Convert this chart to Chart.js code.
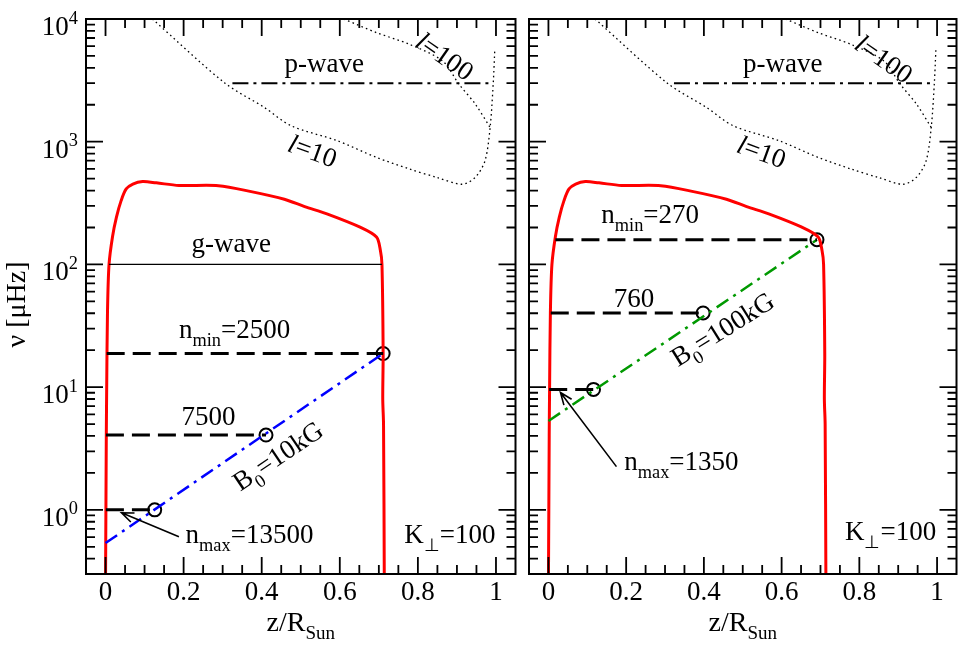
<!DOCTYPE html>
<html>
<head>
<meta charset="utf-8">
<script src="https://cdn.jsdelivr.net/npm/chart.js@4.4.1/dist/chart.umd.min.js"></script>
<style>
  body { margin: 0; background: #fff; }
  #wrap { position: relative; width: 965px; height: 646px; }
  canvas { position: absolute; top: 0; }
</style>
</head>
<body>
<div id="wrap">
  <canvas id="leftChart" width="524" height="646" style="left:0"></canvas>
  <canvas id="rightChart" width="445" height="646" style="left:520px"></canvas>
</div>
<script>
const FONT = '"Liberation Serif", "Times New Roman", serif';

// tick labels
const xTicks = [0, 0.2, 0.4, 0.6, 0.8, 1];
const yDecades = [0, 1, 2, 3, 4];

// red curve (same in both panels)
const coreZ  = [0.000, 0.001, 0.002, 0.003, 0.005, 0.009, 0.018, 0.028, 0.040, 0.053, 0.070, 0.095, 0.13, 0.188, 0.289, 0.373, 0.458, 0.51, 0.567, 0.652, 0.694, 0.704, 0.708, 0.711, 0.710, 0.712, 0.714];
const coreNu = [0.25, 1, 4, 10, 40, 100, 169, 243, 331, 412, 452, 473, 462, 440, 438, 392, 340, 296, 258, 201, 167, 130, 100, 18.8, 8, 5, 0.25];

// dotted l=10 and l=100 curves
const l10Z  = [0.12, 0.306, 0.407, 0.475, 0.593, 0.694, 0.778, 0.85, 0.913, 0.947, 0.972, 0.985, 0.993, 0.997];
const l10Nu = [10000, 3000, 1900, 1350, 1020, 745, 600, 510, 450, 513, 701, 1307, 3000, 5675];
const l100Z  = [0.61, 0.694, 0.778, 0.863, 0.905, 0.947, 0.985];
const l100Nu = [10000, 7742, 6225, 4557, 2950, 2026, 1307];

// p-wave and g-wave
const pWaveNu = 3000;
const pWaveZLeft = [0.325, 0.989];
const pWaveZRight = [0.323, 0.992];
const gWaveNu = 100;
const gWaveZ = [0.009, 0.708];

// left panel, B0 = 10 kG
const nuLevelsLeft = [18.8, 4.07, 1.0];
const zStartLeft = [0.003, 0.001, 0.001];
const zCircleLeft = [0.711, 0.411, 0.126];
const blueZ = [0, 0.711];
const blueNu = [0.536, 18.8];

// right panel, B0 = 100 kG
const nuLevelsRight = [159, 40.2, 9.58];
const zStartRight = [0.018, 0.006, 0.002];
const zCircleRight = [0.691, 0.398, 0.116];
const greenZ = [0, 0.691];
const greenNu = [5.3, 159];

function pts(zs, nus) { return zs.map((z, i) => ({ x: z, y: nus[i] })); }

function lineSet(data, color, width, dash, tension) {
  return { data, borderColor: color, borderWidth: width, borderDash: dash || [],
           pointRadius: 0, tension: tension || 0, fill: false };
}

function circleSet(zs, nus) {
  return { data: pts(zs, nus), showLine: false, pointRadius: 6.5, pointHoverRadius: 6.5,
           pointBorderWidth: 2, pointBorderColor: '#000', pointBackgroundColor: 'rgba(0,0,0,0)' };
}

function drawRich(ctx, x, y, parts, size, align, angle, mid) {
  ctx.save();
  ctx.translate(x, y);
  if (angle) ctx.rotate(angle * Math.PI / 180);
  let w = 0;
  const items = parts.map(([t, k]) => {
    const s = (k === 'sub' || k === 'sup') ? size * 0.68 : size;
    const f = (k === 'it' ? 'italic ' : '') + s + 'px ' + FONT;
    ctx.font = f;
    const it = { t, f, x: w, dy: k === 'sub' ? size * 0.3 : k === 'sup' ? -size * 0.42 : 0 };
    w += ctx.measureText(t).width;
    return it;
  });
  const x0 = align === 'center' ? -w / 2 : align === 'right' ? -w : 0;
  const base = mid ? size * 0.3 : 0;
  ctx.fillStyle = '#000';
  ctx.textBaseline = 'alphabetic';
  ctx.textAlign = 'left';
  items.forEach(it => { ctx.font = it.f; ctx.fillText(it.t, x0 + it.x, it.dy + base); });
  ctx.restore();
}

function drawArrow(ctx, x0, y0, x1, y1) {
  const a = Math.atan2(y1 - y0, x1 - x0), L = 13, h = 0.38;
  ctx.beginPath();
  ctx.moveTo(x0, y0); ctx.lineTo(x1, y1);
  ctx.moveTo(x1 - L * Math.cos(a - h), y1 - L * Math.sin(a - h));
  ctx.lineTo(x1, y1);
  ctx.lineTo(x1 - L * Math.cos(a + h), y1 - L * Math.sin(a + h));
  ctx.stroke();
}

const decor = {
  id: 'decor',
  afterDatasetsDraw(chart, args, opts) {
    const { ctx, chartArea: a, scales: { x, y } } = chart;
    ctx.save();
    ctx.strokeStyle = '#000';
    ctx.lineWidth = 2;
    ctx.strokeRect(a.left, a.top, a.right - a.left, a.bottom - a.top);
    ctx.lineWidth = 1.8;
    ctx.beginPath();
    for (let k = 0; k <= 20; k++) {
      const px = x.getPixelForValue(k * 0.05);
      const len = k % 4 === 0 ? 17 : 9;
      ctx.moveTo(px, a.bottom); ctx.lineTo(px, a.bottom - len);
      ctx.moveTo(px, a.top); ctx.lineTo(px, a.top + len);
    }
    for (let e = -1; e <= 3; e++) {
      for (let m = 1; m <= 9; m++) {
        const v = m * Math.pow(10, e);
        if (v < y.min) continue;
        const py = y.getPixelForValue(v);
        const len = m === 1 ? 17 : 9;
        ctx.moveTo(a.left, py); ctx.lineTo(a.left + len, py);
        ctx.moveTo(a.right, py); ctx.lineTo(a.right - len, py);
      }
    }
    ctx.stroke();

    if (opts.yLabels) {
      yDecades.forEach(d => {
        const py = y.getPixelForValue(Math.pow(10, d));
        drawRich(ctx, a.left - 8, py + 16, [['10', ''], [String(d), 'sup']], 27, 'right', 0);
      });
      drawRich(ctx, 17, (a.top + a.bottom) / 2 + 8, [['ν [μHz]', '']], 28, 'center', -90, true);
    }
    drawRich(ctx, (a.left + a.right) / 2, 631, [['z/R', ''], ['Sun', 'sub']], 28, 'center', 0);

    (opts.notes || []).forEach(n => {
      drawRich(ctx, x.getPixelForValue(n.z), y.getPixelForValue(n.nu), n.parts, 27,
               n.align, n.angle || 0, n.mid);
    });
    if (opts.arrow) {
      const r = opts.arrow;
      ctx.lineWidth = 1.6;
      drawArrow(ctx, x.getPixelForValue(r[0]), y.getPixelForValue(r[1]),
                     x.getPixelForValue(r[2]), y.getPixelForValue(r[3]));
    }
    ctx.restore();
  }
};

function makePanel(id, yWidth, padRight, datasets, decorOpts) {
  return new Chart(document.getElementById(id), {
    type: 'line',
    data: { datasets },
    options: {
      responsive: false,
      animation: false,
      events: [],
      layout: { padding: { top: 19, right: padRight, left: 0, bottom: 0 } },
      plugins: { legend: { display: false }, tooltip: { enabled: false }, decor: decorOpts },
      scales: {
        x: {
          type: 'linear', min: -0.05, max: 1.05,
          grid: { display: false, drawTicks: false }, border: { display: false },
          afterBuildTicks: s => { s.ticks = xTicks.map(v => ({ value: v })); },
          afterFit: s => { s.height = 72; },
          ticks: {
            autoSkip: false, maxRotation: 0, padding: 3, color: '#000',
            font: { family: FONT, size: 27 },
            callback: v => String(Number(v.toFixed(1)))
          }
        },
        y: {
          type: 'logarithmic', min: 0.3, max: 10000,
          grid: { display: false, drawTicks: false }, border: { display: false },
          ticks: { display: false },
          afterFit: s => { s.width = yWidth; }
        }
      }
    },
    plugins: [decor]
  });
}

const dashed = [18, 8];
const dotted = [1.6, 3.2];

const leftSets = [
  lineSet(pts(l10Z, l10Nu), '#000', 1.3, dotted, 0.3),
  lineSet(pts(l100Z, l100Nu), '#000', 1.3, dotted, 0.3),
  lineSet(pts(pWaveZLeft, [pWaveNu, pWaveNu]), '#000', 2, [16, 5, 3, 5]),
  lineSet(pts(gWaveZ, [gWaveNu, gWaveNu]), '#000', 1.2),
  ...nuLevelsLeft.map((nu, i) => lineSet(pts([zStartLeft[i], zCircleLeft[i]], [nu, nu]), '#000', 3, dashed)),
  lineSet(pts(blueZ, blueNu), '#0000ff', 2.5, [14, 6, 3, 6]),
  lineSet(pts(coreZ, coreNu), '#ff0000', 3, [], 0.3),
  circleSet(zCircleLeft, nuLevelsLeft)
];

const rightSets = [
  lineSet(pts(l10Z, l10Nu), '#000', 1.3, dotted, 0.3),
  lineSet(pts(l100Z, l100Nu), '#000', 1.3, dotted, 0.3),
  lineSet(pts(pWaveZRight, [pWaveNu, pWaveNu]), '#000', 2, [16, 5, 3, 5]),
  ...nuLevelsRight.map((nu, i) => lineSet(pts([zStartRight[i], zCircleRight[i]], [nu, nu]), '#000', 3, dashed)),
  lineSet(pts(greenZ, greenNu), '#009900', 2.5, [14, 6, 3, 6]),
  lineSet(pts(coreZ, coreNu), '#ff0000', 3, [], 0.3),
  circleSet(zCircleRight, nuLevelsRight)
];

const lWave = (t) => [['l', 'it'], ['=' + t, '']];

makePanel('leftChart', 86, 3, leftSets, {
  yLabels: true,
  notes: [
    { z: 0.56, nu: 3700, parts: [['p-wave', '']], align: 'center' },
    { z: 0.322, nu: 127, parts: [['g-wave', '']], align: 'center' },
    { z: 0.188, nu: 25.2, parts: [['n', ''], ['min', 'sub'], ['=2500', '']], align: 'left' },
    { z: 0.264, nu: 4.93, parts: [['7500', '']], align: 'center' },
    { z: 0.205, nu: 0.539, parts: [['n', ''], ['max', 'sub'], ['=13500', '']], align: 'left' },
    { z: 0.765, nu: 0.541, parts: [['K', ''], ['⊥', 'sub'], ['=100', '']], align: 'left' },
    { z: 0.454, nu: 2.4, parts: [['B', ''], ['0', 'sub'], ['=10kG', '']], align: 'center', angle: -34 },
    { z: 0.530, nu: 830, parts: lWave('10'), align: 'center', angle: 20, mid: true },
    { z: 0.868, nu: 4900, parts: lWave('100'), align: 'center', angle: 35, mid: true }
  ],
  arrow: [0.188, 0.603, 0.041, 0.945]
});

makePanel('rightChart', 9, 2, rightSets, {
  yLabels: false,
  notes: [
    { z: 0.603, nu: 3700, parts: [['p-wave', '']], align: 'center' },
    { z: 0.136, nu: 218, parts: [['n', ''], ['min', 'sub'], ['=270', '']], align: 'left' },
    { z: 0.22, nu: 45.3, parts: [['760', '']], align: 'center' },
    { z: 0.195, nu: 2.12, parts: [['n', ''], ['max', 'sub'], ['=1350', '']], align: 'left' },
    { z: 0.763, nu: 0.569, parts: [['K', ''], ['⊥', 'sub'], ['=100', '']], align: 'left' },
    { z: 0.46, nu: 25.8, parts: [['B', ''], ['0', 'sub'], ['=100kG', '']], align: 'center', angle: -32 },
    { z: 0.548, nu: 815, parts: lWave('10'), align: 'center', angle: 20, mid: true },
    { z: 0.862, nu: 4667, parts: lWave('100'), align: 'center', angle: 35, mid: true }
  ],
  arrow: [0.175, 2.25, 0.031, 9.03]
});
</script>
</body>
</html>
